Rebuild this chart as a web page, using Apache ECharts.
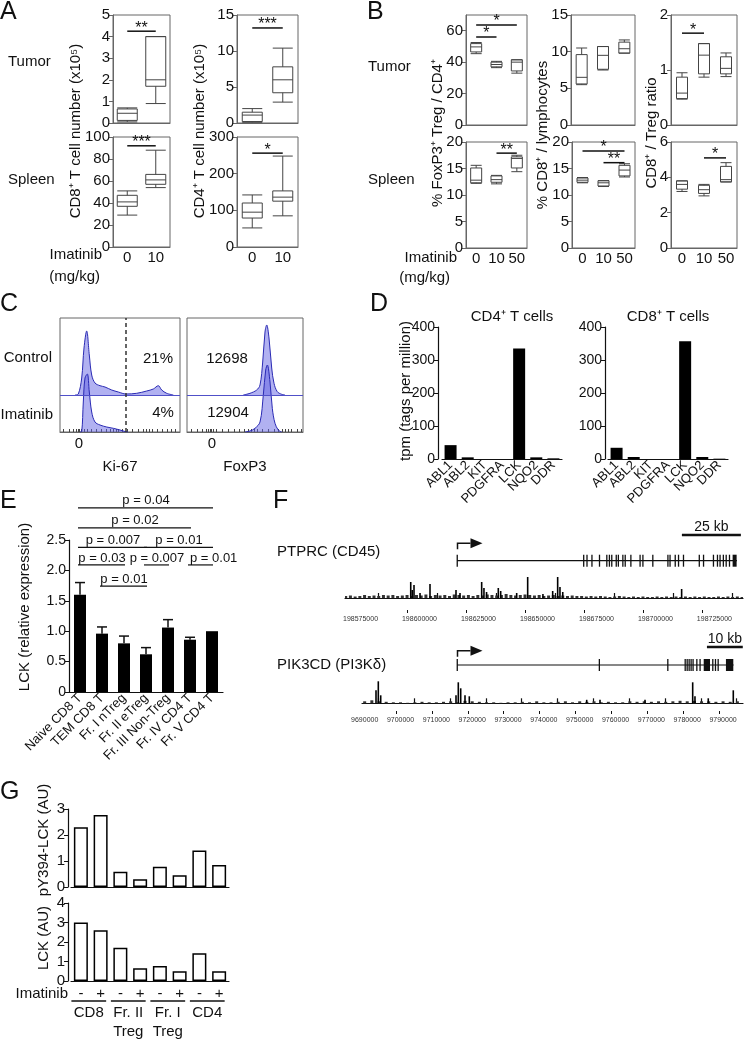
<!DOCTYPE html>
<html>
<head>
<meta charset="utf-8">
<title>Imatinib and LCK in T cells</title>
<script src="https://cdn.jsdelivr.net/npm/echarts@6.0.0/dist/echarts.min.js"></script>
<style>
  html, body { margin: 0; padding: 0; background: #fff; }
  #fig { width: 745px; height: 1040px; }
</style>
</head>
<body>
<div id="fig"></div>
<script>
// ---------- A: T cell numbers, boxes are [min, Q1, median, Q3, max] ----------
var doseA = ['0', '10'];
var cd8Tumor = [[0.05, 0.12, 0.45, 0.65, 0.7], [0.9, 1.7, 2.0, 4.0, 4.0]];
var cd4Tumor = [[0.1, 0.2, 1.1, 1.5, 2.0], [2.9, 4.2, 6.0, 7.8, 10.4]];
var cd8Spleen = [[29, 37, 41, 47, 51], [54, 57, 61, 66, 88]];
var cd4Spleen = [[52, 79, 95, 120, 142], [85, 125, 136, 153, 248]];
var ticksCd8Tumor = [0, 1, 2, 3, 4, 5];
var ticksCd4Tumor = [0, 5, 10, 15];
var ticksCd8Spleen = [0, 20, 40, 60, 80, 100];
var ticksCd4Spleen = [0, 100, 200, 300];
// significance: [from group, to group, height, stars]
var sigCd8Tumor = [[0, 1, 4.25, '**']];
var sigCd4Tumor = [[0, 1, 13.2, '***']];
var sigCd8Spleen = [[0, 1, 92, '***']];
var sigCd4Spleen = [[0, 1, 256, '*']];

// ---------- B: Treg / CD8 fractions ----------
var doseB = ['0', '10', '50'];
var tregTumor = [[45.4, 46.5, 49.7, 51.8, 52.5], [36.5, 37, 38.5, 40, 40.5], [33, 34.4, 40, 41.5, 41.5]];
var cd8LymTumor = [[5.5, 5.6, 6.5, 9.6, 10.5], [7.5, 7.6, 9.5, 10.7, 10.7], [9.8, 9.8, 10.4, 11.3, 11.6]];
var ratioTumor = [[0.47, 0.48, 0.58, 0.87, 0.95], [0.87, 0.93, 1.27, 1.48, 1.48], [0.88, 0.93, 1.03, 1.24, 1.31]];
var tregSpleen = [[12.2, 12.3, 12.8, 15.1, 15.6], [12.1, 12.4, 12.9, 13.6, 13.7], [14.4, 15.1, 16.9, 17.2, 17.5]];
var cd8LymSpleen = [[12.3, 12.4, 12.8, 13.2, 13.3], [11.6, 11.7, 12.3, 12.7, 12.7], [13.4, 13.6, 14.7, 15.6, 15.9]];
var ratioSpleen = [[3.2, 3.33, 3.6, 3.8, 3.8], [2.95, 3.09, 3.3, 3.55, 3.6], [3.74, 3.74, 3.87, 4.62, 4.83]];
var ticksTregTumor = [0, 20, 40, 60];
var ticksCd8LymTumor = [0, 5, 10, 15];
var ticksRatioTumor = [0, 1, 2];
var ticksTregSpleen = [0, 5, 10, 15, 20];
var ticksCd8LymSpleen = [0, 5, 10, 15, 20];
var ticksRatioSpleen = [0, 2, 4, 6];
var sigTregTumor = [[0, 1, 56, '*'], [0, 2, 63.6, '*']];
var sigRatioTumor = [[0, 1, 1.67, '*']];
var sigTregSpleen = [[1, 2, 17.9, '**']];
var sigCd8LymSpleen = [[0, 2, 18.3, '*'], [1, 2, 16.1, '**']];
var sigRatioSpleen = [[1, 2, 5.1, '*']];

// ---------- C: flow histograms (channel position, height) ----------
var kiCtrlX = [15, 18.3, 21.7, 24, 26.7, 29.3, 31.7, 35, 40, 45, 51.7, 58.3, 66, 76.7, 86.7, 93.3, 98.3, 101.7, 106.7, 113.3];
var kiCtrlH = [0, 1, 17, 47, 64, 40, 20, 12, 9.3, 8, 5, 3, 1, 1.7, 4, 6, 9.3, 5, 1.7, 0];
var kiImaX = [20, 21.7, 23.3, 25, 27.3, 29.3, 31.7, 35, 40, 46.7, 53.3, 60, 65, 68];
var kiImaH = [0, 0.5, 30, 54, 58, 40, 20, 10, 7, 5, 3.7, 2, 0.5, 0];
var foxCtrlX = [56.3, 63, 69.7, 73, 75.7, 78, 79.7, 82, 84.7, 87, 90.3, 94.7, 98];
var foxCtrlH = [0, 1.7, 5, 10, 33, 63, 70, 57, 27, 11.7, 3.3, 0.7, 0];
var foxImaX = [58, 63, 68, 73, 76.3, 78.7, 80.3, 83, 85.3, 88, 91.3, 94.7];
var foxImaH = [0, 1, 3.7, 10, 37, 62, 67, 50, 23.7, 8.7, 2, 0];
var kiTicks = [3, 9, 13, 16, 18, 19.5, 21, 24, 27, 31, 36, 41, 46, 50, 53, 56, 58, 62, 67, 72, 78, 83, 86, 89, 92, 97, 102, 107, 111, 115];
var foxTicks = [4, 10, 15, 19, 21, 23, 24.5, 26, 29, 35, 41, 47, 52, 57, 61, 64, 67, 70, 75, 81, 87, 91, 95, 98, 101, 104, 110, 114];
var kiZero = 19, foxZero = 25, kiGate = 66;
var ctrlLabels = ['21%', '12698'];
var imaLabels = ['4%', '12904'];

// ---------- D: tpm ----------
var geneD = ['ABL1', 'ABL2', 'KIT', 'PDGFRA', 'LCK', 'NQO2', 'DDR'];
var tpmCd4 = [42, 5, 0, 0, 335, 5, 2];
var tpmCd8 = [34, 6, 0, 0, 357, 6, 1];
var ticksTpm = [0, 100, 200, 300, 400];

// ---------- E: LCK relative expression ----------
var cellE = ['Naive CD8 T', 'TEM CD8 T', 'Fr. I nTreg', 'Fr. II eTreg', 'Fr. III Non-Treg', 'Fr. IV CD4 T', 'Fr. V CD4 T'];
var lckMean = [1.6, 0.96, 0.8, 0.62, 1.06, 0.86, 1.0];
var lckSem = [0.2, 0.11, 0.12, 0.11, 0.13, 0.04, 0];
var ticksLck = [0, 0.5, 1.0, 1.5, 2.0, 2.5];
var pBrackets = [[0, 6, 3.03, 'p = 0.04'], [0, 5, 2.70, 'p = 0.02'], [0, 3, 2.38, 'p = 0.007'], [3, 6, 2.38, 'p = 0.01'],
  [0, 2, 2.09, 'p = 0.03'], [3, 4, 2.09, 'p = 0.007'], [5, 6, 2.09, 'p = 0.01'], [1, 3, 1.74, 'p = 0.01']];

// ---------- F: genome tracks ----------
var BIN = 2000;
var bgUpStart = 198561000;
var bgUpper = [2, 2.5, 1.5, 2, 3, 2, 2.5, 2, 3, 2.5, 3, 2, 2.5, 3, 2, 3, 2.5, 3.5, 2, 3,
  2.5, 3, 2, 3.5, 3, 2.5, 3, 2, 3, 2.5, 3.5, 3, 2.5, 3, 4, 3, 2.5, 3, 3.5, 3,
  2.5, 3, 2, 2.5, 3, 2, 2.5, 2, 2.5, 2, 2, 1.5, 2, 1.5, 2, 1.5, 1, 1.5, 2, 1.5,
  1, 1.5, 1, 1.5, 1, 1, 1.5, 1, 1.5, 1, 1.5, 1, 1.5, 1, 1.5, 1, 1.5, 1, 1, 1.5, 1, 1.5, 1, 1.5, 1];
var peaksUpper = [[198588860, 16], [198589500, 8], [198590250, 13], [198592800, 5], [198597030, 14], [198608050, 8],
  [198609750, 5], [198618930, 16], [198619900, 10], [198621000, 6], [198625980, 10], [198626990, 7], [198633770, 5],
  [198638430, 21], [198644900, 4], [198649030, 7], [198651140, 21], [198652120, 11], [198653300, 6], [198703690, 9]];
var bgLoStart = 9686000;
var bgLower = [2, 3, 2, 1.5, 1, 1, 0.5, 1, 1.5, 1, 1, 1.5, 2, 1, 2.5, 2, 1.5, 1, 1, 0.5,
  1, 1, 1.5, 1, 2, 1, 1, 1.5, 2, 1, 2, 1.5, 2, 1, 1.5, 1, 1, 2, 1.5, 2,
  1.5, 2, 1.5, 2, 2.5, 2, 2.5, 2, 2, 1.5, 2, 1.5, 2];
var peaksLower = [[9689358, 13], [9690000, 22], [9690670, 8], [9711680, 8], [9712320, 21], [9712990, 15], [9714190, 8],
  [9715390, 7], [9748150, 3.5], [9751860, 3.5], [9764420, 3.5], [9777720, 21], [9778360, 7], [9782070, 5], [9789050, 13]];
var geneUp = [198608475, 198727120];
var exonsUp = [[198608300, 198608600], [198661900, 198662300], [198663300, 198663700], [198665400, 198665800], [198668600, 198669000],
  [198671700, 198672100], [198672800, 198673200], [198673800, 198674200], [198675700, 198676100], [198676600, 198677000],
  [198678500, 198678900], [198679500, 198679900], [198681900, 198682300], [198685800, 198686200], [198687000, 198687400],
  [198691200, 198691600], [198697600, 198698000], [198698500, 198698900], [198700700, 198701100], [198702100, 198702500],
  [198704200, 198704600], [198710900, 198711300], [198712700, 198713100], [198716900, 198717300], [198718600, 198719000],
  [198719700, 198720100], [198721100, 198721500], [198722300, 198722700], [198723700, 198724100], [198725300, 198727000]];
var geneLo = [9711960, 9789130];
var exonsLo = [[9711850, 9712100], [9751500, 9751800], [9770600, 9770900], [9775450, 9775700], [9776000, 9776250],
  [9776550, 9776800], [9777100, 9777350], [9777650, 9777900], [9778700, 9778950], [9779600, 9779850],
  [9780800, 9782550], [9783150, 9783450], [9783900, 9784150], [9784650, 9784900], [9787000, 9789050]];
var scaleUp = [[198703800, 198728800, '25 kb']];
var scaleLo = [[9781700, 9791700, '10 kb']];
var ticksUp = [198575000, 198600000, 198625000, 198650000, 198675000, 198700000, 198725000];
var minorUp = [198587500, 198612500, 198637500, 198662500, 198687500, 198712500];
var ticksLo = [9690000, 9700000, 9710000, 9720000, 9730000, 9740000, 9750000, 9760000, 9770000, 9780000, 9790000];
var minorLo = [9695000, 9705000, 9715000, 9725000, 9735000, 9745000, 9755000, 9765000, 9775000, 9785000];

// ---------- G: pY394-LCK and LCK ----------
var imatinibG = ['-', '+', '-', '+', '-', '+', '-', '+'];
var pLck = [2.3, 2.77, 0.59, 0.3, 0.78, 0.45, 1.4, 0.85];
var totalLck = [3.0, 2.6, 1.7, 0.65, 0.77, 0.5, 1.42, 0.5];
var ticksPLck = [0, 1, 2, 3];
var ticksTotalLck = [0, 1, 2, 3, 4];
var groupsG = [[0, 1, 'CD8', ''], [2, 3, 'Fr. II', 'Treg'], [4, 5, 'Fr. I', 'Treg'], [6, 7, 'CD4', '']];

// ================= drawing =================
var FONT = '"Liberation Sans", Arial, Helvetica, sans-serif';
var INK = '#111';
var FRAME = '#666';
var pLabelAlign = ['center', 'center', 'center', 'center', 'center', 'center', 'left', 'center'];

var grids = [], xAxes = [], yAxes = [], series = [], elements = [];

function tstyle(text, size, align, extra) {
  var s = {text: text, fill: INK, fontSize: size, fontFamily: FONT,
    align: align || 'center', verticalAlign: 'middle',
    textAlign: align || 'center', textVerticalAlign: 'middle'};
  if (extra) for (var k in extra) s[k] = extra[k];
  return s;
}
function txt(text, x, y, size, align, rotation) {
  elements.push({type: 'text', x: x, y: y, rotation: rotation || 0, silent: true, style: tstyle(text, size, align || 'left')});
}
function addGrid(r, framed) {
  grids.push({left: r[0], top: r[1], width: r[2], height: r[3], show: !!framed,
    borderColor: FRAME, borderWidth: 1, backgroundColor: 'transparent'});
  return grids.length - 1;
}
function addX(c) { c.splitLine = {show: false}; xAxes.push(c); return xAxes.length - 1; }
function addY(c) { c.splitLine = {show: false}; yAxes.push(c); return yAxes.length - 1; }
function lbl(size, extra) {
  var o = {color: INK, fontFamily: FONT, fontSize: size};
  if (extra) for (var k in extra) o[k] = extra[k];
  return o;
}

function sigSeries(xi, yi, items) {
  return {type: 'custom', xAxisIndex: xi, yAxisIndex: yi, silent: true, clip: false, z: 10,
    data: items.map(function (d) { return [d[0], d[2]]; }),
    renderItem: function (params, api) {
      var d = items[params.dataIndex];
      var a = api.coord([d[0], d[2]]), b = api.coord([d[1], d[2]]);
      return {type: 'group', children: [
        {type: 'line', shape: {x1: a[0], y1: a[1], x2: b[0], y2: b[1]}, style: {stroke: INK, lineWidth: 1.5}},
        {type: 'text', x: (a[0] + b[0]) / 2, y: a[1] - 3, style: tstyle(d[3], 16, 'center')}
      ]};
    }};
}

function boxPanel(rect, cats, boxes, sig, yMax, yTicks, showX, boxW) {
  var g = addGrid(rect, true);
  var xi = addX({gridIndex: g, type: 'category', data: cats,
    axisLine: {lineStyle: {color: FRAME}},
    axisTick: {alignWithLabel: true, length: 4, lineStyle: {color: FRAME}},
    axisLabel: lbl(15, {show: showX, margin: 3, interval: 0, hideOverlap: false})});
  var yi = addY({gridIndex: g, type: 'value', min: 0, max: yMax,
    axisLine: {show: true, lineStyle: {color: FRAME}},
    axisTick: {show: true, length: 4, customValues: yTicks, lineStyle: {color: FRAME}},
    axisLabel: lbl(15, {customValues: yTicks, margin: 3})});
  series.push({type: 'boxplot', xAxisIndex: xi, yAxisIndex: yi, data: boxes, boxWidth: [boxW, boxW], silent: true,
    itemStyle: {color: '#fff', borderColor: '#444', borderWidth: 1}});
  if (sig && sig.length) series.push(sigSeries(xi, yi, sig));
}

// ---- A ----
boxPanel([113, 15, 57, 108], doseA, cd8Tumor, sigCd8Tumor, 5, ticksCd8Tumor, false, 20);
boxPanel([237, 15, 61, 108], doseA, cd4Tumor, sigCd4Tumor, 15, ticksCd4Tumor, false, 20);
boxPanel([113, 137, 57, 110], doseA, cd8Spleen, sigCd8Spleen, 100, ticksCd8Spleen, true, 20);
boxPanel([237, 137, 61, 110], doseA, cd4Spleen, sigCd4Spleen, 300, ticksCd4Spleen, true, 20);
txt('A', 0, 12, 25);
txt('Tumor', 8, 62, 15);
txt('Spleen', 8, 180, 15);
txt('CD8\u207A T cell number (x10\u2075)', 76, 131, 15, 'center', Math.PI / 2);
txt('CD4\u207A T cell number (x10\u2075)', 200, 131, 15, 'center', Math.PI / 2);
txt('Imatinib', 102, 255, 15, 'right');
txt('(mg/kg)', 100, 277, 15, 'right');

// ---- B ----
boxPanel([466, 15, 61, 110], doseB, tregTumor, sigTregTumor, 70, ticksTregTumor, false, 11);
boxPanel([571, 15, 64, 110], doseB, cd8LymTumor, [], 15, ticksCd8LymTumor, false, 11);
boxPanel([671, 15, 66, 110], doseB, ratioTumor, sigRatioTumor, 2, ticksRatioTumor, false, 11);
boxPanel([466, 142, 61, 106], doseB, tregSpleen, sigTregSpleen, 20, ticksTregSpleen, true, 11);
boxPanel([572, 142, 63, 106], doseB, cd8LymSpleen, sigCd8LymSpleen, 20, ticksCd8LymSpleen, true, 11);
boxPanel([671, 142, 66, 106], doseB, ratioSpleen, sigRatioSpleen, 6, ticksRatioSpleen, true, 11);
txt('B', 367, 12, 25);
txt('Tumor', 368, 67, 15);
txt('Spleen', 368, 180, 15);
txt('% FoxP3\u207A Treg / CD4\u207A', 438, 133, 15, 'center', Math.PI / 2);
txt('% CD8\u207A / lymphocytes', 543, 135, 15, 'center', Math.PI / 2);
txt('CD8\u207A / Treg ratio', 652, 133, 15, 'center', Math.PI / 2);
txt('Imatinib', 457, 258, 15, 'right');
txt('(mg/kg)', 450, 278, 15, 'right');

// ---- C ----
var CTRL_BASE = 37;
var HIST_LINE = '#2a2ab4', HIST_FILL = 'rgba(96, 96, 226, 0.7)';
function histPanel(rect, cx, ch, ix, ih, tickVals, zeroAt, name, gateAt) {
  var g = addGrid(rect, true);
  var xi = addX({gridIndex: g, type: 'value', min: 0, max: rect[2],
    axisLine: {lineStyle: {color: FRAME}},
    axisTick: {customValues: tickVals, inside: true, length: 3, lineStyle: {color: '#444'}},
    axisLabel: lbl(15, {customValues: [zeroAt], margin: 4, formatter: function () { return '0'; }}),
    name: name, nameLocation: 'middle', nameGap: 27, nameTextStyle: lbl(15)});
  var yi = addY({gridIndex: g, type: 'value', min: 0, max: rect[3], show: false});
  series.push({type: 'line', xAxisIndex: xi, yAxisIndex: yi, smooth: 0.35, symbol: 'none', silent: true,
    data: cx.map(function (x, i) { return [x, CTRL_BASE + ch[i]]; }),
    lineStyle: {color: HIST_LINE, width: 1}, areaStyle: {color: HIST_FILL, origin: CTRL_BASE},
    markLine: {silent: true, symbol: 'none', label: {show: false}, lineStyle: {color: '#5050c8', width: 1, type: 'solid'},
      data: [{yAxis: CTRL_BASE}]}});
  var ima = {type: 'line', xAxisIndex: xi, yAxisIndex: yi, smooth: 0.35, symbol: 'none', silent: true,
    data: ix.map(function (x, i) { return [x, ih[i]]; }),
    lineStyle: {color: HIST_LINE, width: 1}, areaStyle: {color: HIST_FILL, origin: 'start'}};
  if (gateAt != null) {
    ima.markLine = {silent: true, symbol: 'none', label: {show: false},
      lineStyle: {color: '#333', width: 1.5, type: [4, 3]}, data: [{xAxis: gateAt}]};
  }
  series.push(ima);
}
histPanel([60, 318, 120, 114], kiCtrlX, kiCtrlH, kiImaX, kiImaH, kiTicks, kiZero, 'Ki-67', kiGate);
histPanel([187, 318, 116, 114], foxCtrlX, foxCtrlH, foxImaX, foxImaH, foxTicks, foxZero, 'FoxP3', null);
txt('C', 0, 304, 25);
txt('Control', 52, 358, 15, 'right');
txt('Imatinib', 53, 415, 15, 'right');
txt(ctrlLabels[0], 158, 359, 15, 'center');
txt(imaLabels[0], 163, 413, 15, 'center');
txt(ctrlLabels[1], 227, 359, 15, 'center');
txt(imaLabels[1], 228, 413, 15, 'center');

// ---- D ----
function tpmPanel(rect, vals, title, titleX, off) {
  var g = addGrid(rect, false);
  var xi = addX({gridIndex: g, type: 'category', data: geneD,
    axisLine: {lineStyle: {color: INK, width: 1.2}},
    axisTick: {alignWithLabel: true, length: 4, lineStyle: {color: INK}},
    axisLabel: lbl(13, {rotate: 45, margin: 4, interval: 0})});
  var yi = addY({gridIndex: g, type: 'value', min: 0, max: 400, offset: off,
    axisLine: {show: true, lineStyle: {color: INK, width: 1.2}},
    axisTick: {show: true, length: 4, customValues: ticksTpm, lineStyle: {color: INK}},
    axisLabel: lbl(14, {customValues: ticksTpm, margin: 3})});
  series.push({type: 'bar', xAxisIndex: xi, yAxisIndex: yi, data: vals, barWidth: 12, silent: true,
    itemStyle: {color: '#000'}});
  txt(title, titleX, 317, 15, 'center');
}
tpmPanel([442, 327, 120, 132], tpmCd4, 'CD4\u207A T cells', 512, 4);
tpmPanel([608, 327, 120, 132], tpmCd8, 'CD8\u207A T cells', 668, 3);
txt('D', 370, 304, 25);
txt('tpm (tags per million)', 406, 391, 15, 'center', Math.PI / 2);

// ---- E ----
(function () {
  var g = addGrid([69, 540, 154, 152], false);
  var xi = addX({gridIndex: g, type: 'category', data: cellE,
    axisLine: {lineStyle: {color: INK, width: 1.2}},
    axisTick: {alignWithLabel: true, length: 4, lineStyle: {color: INK}},
    axisLabel: lbl(13, {rotate: 45, margin: 4, interval: 0})});
  var yi = addY({gridIndex: g, type: 'value', min: 0, max: 2.5,
    axisLine: {show: true, lineStyle: {color: INK, width: 1.2}},
    axisTick: {show: true, length: 4, customValues: ticksLck, lineStyle: {color: INK}},
    axisLabel: lbl(14, {customValues: ticksLck, margin: 3,
      formatter: function (v) { return v === 0 ? '0' : Number(v).toFixed(1); }})});
  series.push({type: 'bar', xAxisIndex: xi, yAxisIndex: yi, data: lckMean, barWidth: 12, silent: true,
    itemStyle: {color: '#000'}});
  series.push({type: 'custom', xAxisIndex: xi, yAxisIndex: yi, silent: true, clip: false, z: 5,
    data: lckMean.map(function (m, i) { return [i, m, lckSem[i]]; }),
    renderItem: function (params, api) {
      var s = api.value(2);
      if (!s) return null;
      var a = api.coord([api.value(0), api.value(1)]), b = api.coord([api.value(0), api.value(1) + s]);
      return {type: 'group', children: [
        {type: 'line', shape: {x1: a[0], y1: a[1], x2: b[0], y2: b[1]}, style: {stroke: INK, lineWidth: 1.5}},
        {type: 'line', shape: {x1: b[0] - 5, y1: b[1], x2: b[0] + 5, y2: b[1]}, style: {stroke: INK, lineWidth: 1.5}}
      ]};
    }});
  series.push({type: 'custom', xAxisIndex: xi, yAxisIndex: yi, silent: true, clip: false, z: 10,
    data: pBrackets.map(function (d) { return [d[0], d[2]]; }),
    renderItem: function (params, api) {
      var d = pBrackets[params.dataIndex];
      var a = api.coord([d[0], d[2]]), b = api.coord([d[1], d[2]]);
      var al = pLabelAlign[params.dataIndex];
      var tx = al === 'left' ? a[0] : (a[0] + b[0]) / 2;
      return {type: 'group', children: [
        {type: 'line', shape: {x1: a[0] - 2, y1: a[1], x2: b[0] + 1, y2: b[1]}, style: {stroke: INK, lineWidth: 1.2}},
        {type: 'text', x: tx, y: a[1] - 7, style: tstyle(d[3], 13, al)}
      ]};
    }});
})();
txt('E', 0, 501, 25);
txt('LCK (relative expression)', 25, 607, 15, 'center', Math.PI / 2);

// ---- F ----
function trackPanel(rect, xMin, xMax, yMin, yMax, major, minor, bgStart, bg, peaks, gene, exons, scale, lay) {
  var g = addGrid(rect, false);
  var xi = addX({gridIndex: g, type: 'value', min: xMin, max: xMax, position: 'bottom',
    axisLine: {lineStyle: {color: INK, width: 1.2}},
    axisTick: {customValues: major, inside: true, length: 5, lineStyle: {color: INK, width: 1.2}},
    axisLabel: lbl(7, {customValues: major, align: 'right', margin: 3, color: '#333',
      formatter: function (v) { return String(v); }})});
  addX({gridIndex: g, type: 'value', min: xMin, max: xMax, position: 'bottom',
    axisLine: {show: false},
    axisTick: {customValues: minor, inside: true, length: 3, lineStyle: {color: INK}},
    axisLabel: {show: false}});
  var yi = addY({gridIndex: g, type: 'value', min: yMin, max: yMax, show: false});
  series.push({type: 'bar', xAxisIndex: xi, yAxisIndex: yi, barWidth: 3, barGap: '-100%', silent: true,
    data: bg.map(function (h, i) { return [bgStart + i * BIN, h]; }), itemStyle: {color: '#333'}});
  series.push({type: 'bar', xAxisIndex: xi, yAxisIndex: yi, barWidth: 1.6, barGap: '-100%', silent: true,
    data: peaks, itemStyle: {color: '#000'}});
  // gene backbone and transcription arrow
  series.push({type: 'custom', xAxisIndex: xi, yAxisIndex: yi, silent: true, clip: false,
    data: [gene],
    renderItem: function (params, api) {
      var a = api.coord([gene[0], lay.lineY]), b = api.coord([gene[1], lay.lineY]);
      var lo = api.coord([gene[0], lay.arrowLow]), hi = api.coord([gene[0], lay.arrowHigh]);
      var x0 = Math.round(a[0]) + 0.5;
      return {type: 'group', children: [
        {type: 'line', shape: {x1: a[0], y1: a[1], x2: b[0], y2: b[1]}, style: {stroke: INK, lineWidth: 1.2}},
        {type: 'polyline', shape: {points: [[x0, lo[1]], [x0, hi[1]], [x0 + 13, hi[1]]]}, style: {stroke: INK, lineWidth: 1.5, fill: null}},
        {type: 'polygon', shape: {points: [[x0 + 13, hi[1] - 5], [x0 + 25, hi[1]], [x0 + 13, hi[1] + 5]]}, style: {fill: INK}}
      ]};
    }});
  // exons
  series.push({type: 'custom', xAxisIndex: xi, yAxisIndex: yi, silent: true, clip: false,
    data: exons,
    renderItem: function (params, api) {
      var e = exons[params.dataIndex];
      var a = api.coord([e[0], lay.lineY + lay.exonHalf]), b = api.coord([e[1], lay.lineY - lay.exonHalf]);
      var w = Math.max(b[0] - a[0], 1.3);
      return {type: 'rect', shape: {x: a[0], y: a[1], width: w, height: b[1] - a[1]}, style: {fill: INK}};
    }});
  // scale bar
  series.push({type: 'custom', xAxisIndex: xi, yAxisIndex: yi, silent: true, clip: false,
    data: scale.map(function (s) { return [s[0], lay.barY]; }),
    renderItem: function (params, api) {
      var s = scale[params.dataIndex];
      var a = api.coord([s[0], lay.barY]), b = api.coord([s[1], lay.barY]);
      return {type: 'group', children: [
        {type: 'line', shape: {x1: a[0], y1: a[1], x2: b[0], y2: b[1]}, style: {stroke: INK, lineWidth: 2.5}},
        {type: 'text', x: (a[0] + b[0]) / 2, y: a[1] - 8, style: tstyle(s[2], 14, 'center')}
      ]};
    }});
}
trackPanel([345, 528, 398, 85], 198561000, 198729700, -15, 70, ticksUp, minorUp, bgUpStart, bgUpper, peaksUpper,
  geneUp, exonsUp, scaleUp, {lineY: 37.3, exonHalf: 6, arrowLow: 48.7, arrowHigh: 54.7, barY: 63});
trackPanel([362, 638, 381, 76], 9685450, 9791760, -10.7, 65.3, ticksLo, minorLo, bgLoStart, bgLower, peaksLower,
  geneLo, exonsLo, scaleLo, {lineY: 38.3, exonHalf: 6, arrowLow: 46.6, arrowHigh: 52.6, barY: 56.3});
txt('F', 273, 501, 25);
txt('PTPRC (CD45)', 277, 552, 15);
txt('PIK3CD (PI3K\u03B4)', 277, 665, 15);

// ---- G ----
function wbPanel(rect, vals, yMax, ticks, showX) {
  var g = addGrid(rect, false);
  var xi = addX({gridIndex: g, type: 'category', data: imatinibG,
    axisLine: {lineStyle: {color: INK, width: 1.2}},
    axisTick: {alignWithLabel: true, length: 4, lineStyle: {color: INK}},
    axisLabel: lbl(15, {show: showX, margin: 5, interval: 0})});
  var yi = addY({gridIndex: g, type: 'value', min: 0, max: yMax, offset: 3,
    axisLine: {show: true, lineStyle: {color: INK, width: 1.2}},
    axisTick: {show: true, length: 4, customValues: ticks, lineStyle: {color: INK}},
    axisLabel: lbl(15, {customValues: ticks, margin: 3})});
  series.push({type: 'bar', xAxisIndex: xi, yAxisIndex: yi, data: vals, barWidth: 14, silent: true,
    itemStyle: {color: '#fff', borderColor: '#000', borderWidth: 1.5}});
  return [xi, yi];
}
wbPanel([71, 809, 158, 78], pLck, 3, ticksPLck, false);
var gAx = wbPanel([71, 903, 158, 78], totalLck, 4, ticksTotalLck, true);
series.push({type: 'custom', xAxisIndex: gAx[0], yAxisIndex: gAx[1], silent: true, clip: false,
  data: groupsG.map(function (d) { return [d[0], 0]; }),
  renderItem: function (params, api) {
    var d = groupsG[params.dataIndex];
    var band = api.size([1, 0])[0];
    var a = api.coord([d[0], 0]), b = api.coord([d[1], 0]);
    var x1 = a[0] - 0.48 * band, x2 = b[0] + 0.28 * band, xm = (x1 + x2) / 2;
    var kids = [
      {type: 'line', shape: {x1: x1, y1: a[1] + 20, x2: x2, y2: a[1] + 20}, style: {stroke: INK, lineWidth: 1.5}},
      {type: 'text', x: xm, y: a[1] + 32, style: tstyle(d[2], 15, 'center')}
    ];
    if (d[3]) kids.push({type: 'text', x: xm, y: a[1] + 51, style: tstyle(d[3], 15, 'center')});
    return {type: 'group', children: kids};
  }});
txt('G', 0, 792, 25);
txt('pY394-LCK (AU)', 44, 840, 15, 'center', Math.PI / 2);
txt('LCK (AU)', 44, 938, 15, 'center', Math.PI / 2);
txt('Imatinib', 68, 994, 15, 'right');

var chart = echarts.init(document.getElementById('fig'));
chart.setOption({
  animation: false,
  backgroundColor: '#fff',
  grid: grids,
  xAxis: xAxes,
  yAxis: yAxes,
  series: series,
  graphic: {elements: elements}
});
</script>
</body>
</html>
